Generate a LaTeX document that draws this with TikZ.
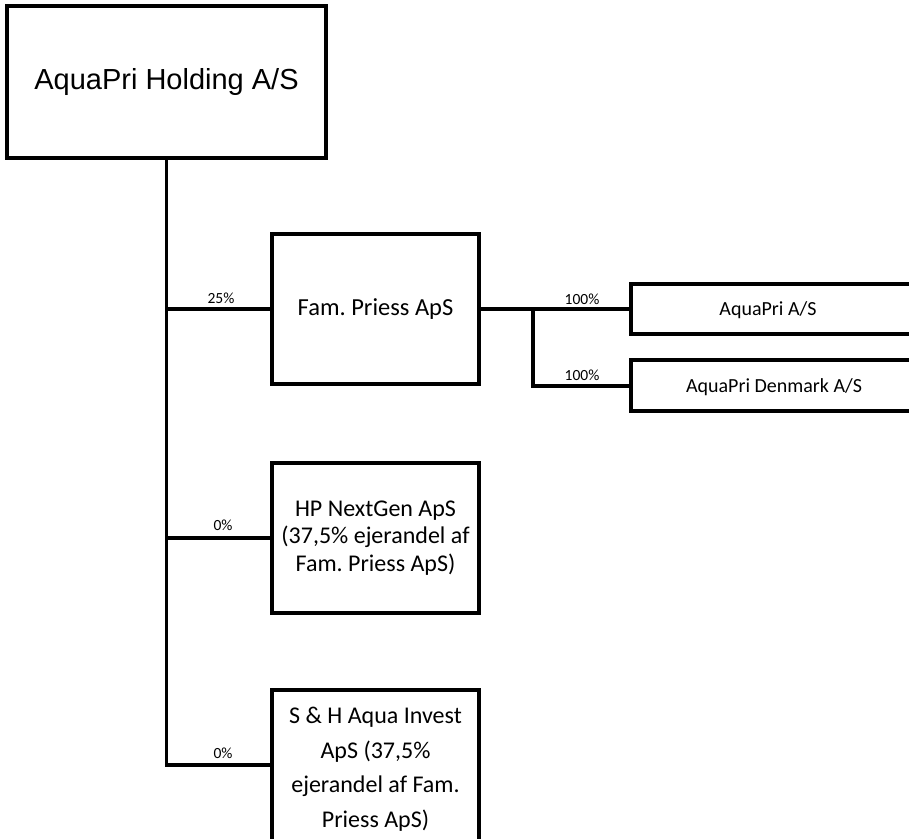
\documentclass[tikz,border=0pt]{standalone}
\usepackage{fontspec}
\setmainfont{Carlito}
\newfontfamily\arialfont{Liberation Sans}
\frenchspacing
\begin{document}
\begin{tikzpicture}[x=1pt,y=-1pt,
  box/.style={draw=black,line width=3.2pt,inner sep=0pt,fill=white},
  conn/.style={draw=black,line width=3.2pt},
  pct/.style={font=\fontsize{15.5}{18}\selectfont,inner sep=0pt},
  txt/.style={font=\fontsize{24.5}{28}\selectfont,align=center,inner sep=0pt}]
\useasboundingbox (0,0) rectangle (909,838);
\clip (0,0) rectangle (909,838);
% boxes
\node[box,minimum width=319pt,minimum height=152pt,font=\arialfont\fontsize{29}{34}\selectfont] (hold) at (166.5,82) {AquaPri Holding A/S};
\node[box,minimum width=207pt,minimum height=150pt,txt] (fam) at (375.5,309) {Fam. Priess ApS};
\node[box,minimum width=207pt,minimum height=150pt,txt,font=\fontsize{24}{27.5}\selectfont] (hp) at (375.5,538) {HP NextGen ApS\\(37,5\% ejerandel af\\Fam. Priess ApS)};
\node[box,minimum width=207pt,minimum height=158pt,txt,font=\fontsize{24}{34.5}\selectfont] (sh) at (375.5,769) {S \& H Aqua Invest\\ApS (37,5\%\\ejerandel af Fam.\\Priess ApS)};
\node[box,minimum width=300pt,minimum height=50pt] (ap) at (781,309) {};
\node[box,minimum width=300pt,minimum height=51pt] (apd) at (781,385.5) {};
\node[font=\fontsize{20}{24}\selectfont,inner sep=0pt] (apt) at (768,310) {AquaPri A/S};
\node[font=\fontsize{20}{24}\selectfont,inner sep=0pt] (apdt) at (774,387) {AquaPri Denmark A/S};
% trunk
\coordinate (t1) at (166,309);
\coordinate (t2) at (166,538);
\coordinate (t3) at (166,765);
\coordinate (b1) at (533,309);
\coordinate (b2) at (533,386);
\draw[conn] (hold.south) -- (hold.south |- t3) -- (sh.west |- t3);
\draw[conn] (t1) -- (fam.west);
\draw[conn] (t2) -- (hp.west);
\draw[conn] (fam.east) -- (ap.west);
\draw[conn] (b1) -- (b2) -- (apd.west |- b2);
% labels
\node[pct] (l1) at (221,298) {25\%};
\node[pct] (l2) at (223,525) {0\%};
\node[pct] (l3) at (223,753) {0\%};
\node[pct] (l4) at (582,299) {100\%};
\node[pct] (l5) at (582,375) {100\%};
\end{tikzpicture}
\end{document}
